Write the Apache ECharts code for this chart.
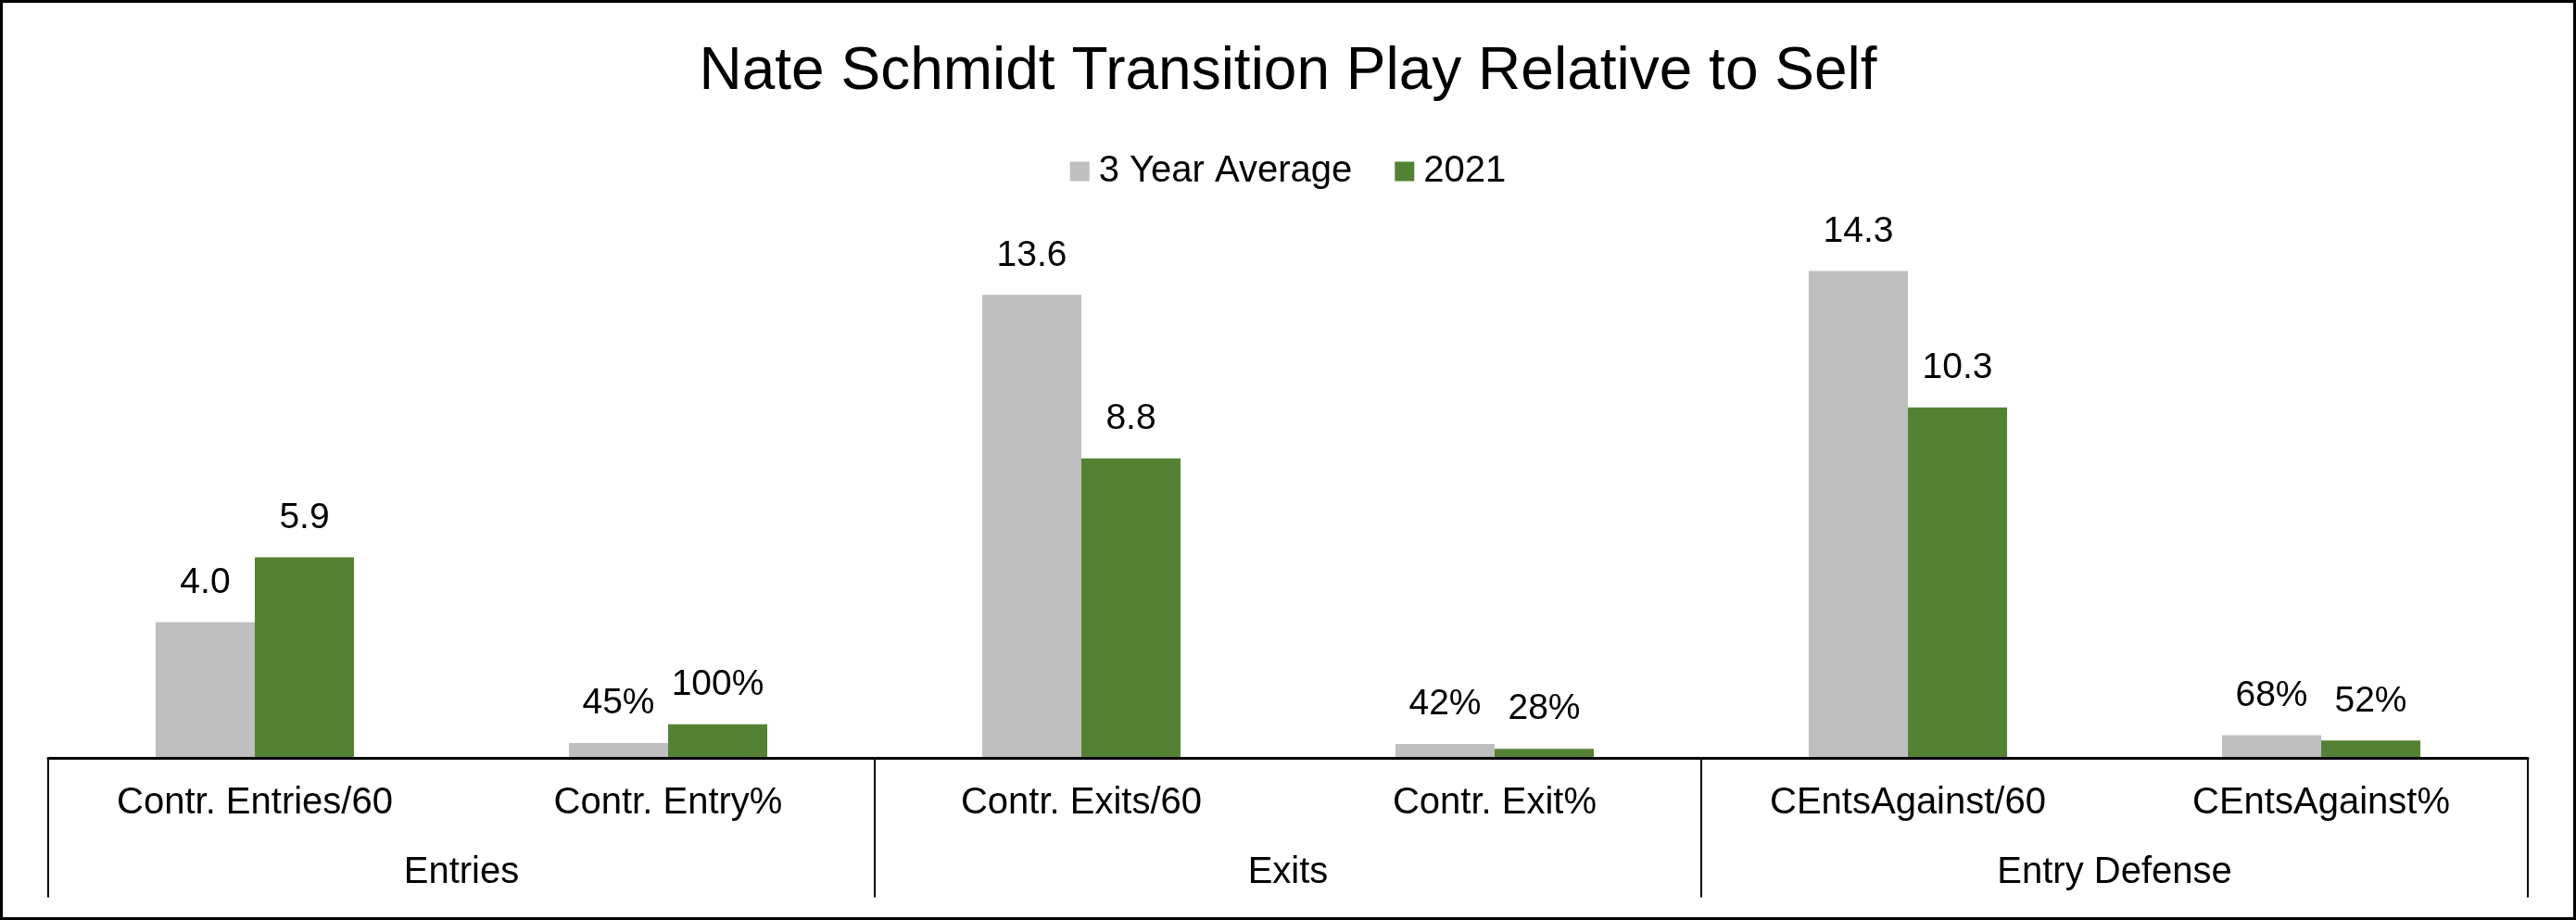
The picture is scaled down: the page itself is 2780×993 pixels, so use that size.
<!DOCTYPE html>
<html>
<head>
<meta charset="utf-8">
<script src="https://cdn.jsdelivr.net/npm/echarts@6/dist/echarts.min.js"></script>
<style>
  html, body { margin: 0; padding: 0; background: #fff; }
  #wrap { position: relative; width: 2780px; height: 993px; }
  #chart { width: 2780px; height: 993px; }
  #frame { position: absolute; left: 0; top: 0; width: 2780px; height: 993px; box-sizing: border-box; border: 3px solid #000; pointer-events: none; }
</style>
</head>
<body>
<div id="wrap"><div id="chart"></div><div id="frame"></div></div>
<script>
const titleText = 'Nate Schmidt Transition Play Relative to Self';
const categories = ['Contr. Entries/60', 'Contr. Entry%', 'Contr. Exits/60', 'Contr. Exit%', 'CEntsAgainst/60', 'CEntsAgainst%'];
const groups = ['Entries', 'Exits', 'Entry Defense'];
const seriesNames = ['3 Year Average', '2021'];
const threeYearAvg = [4.0, 0.45, 13.6, 0.42, 14.3, 0.68];
const season2021 = [5.9, 1.00, 8.8, 0.28, 10.3, 0.52];

const FONT = '"Liberation Sans", Arial, sans-serif';

function fmt(p) {
  const cat = categories[p.dataIndex];
  if (cat.endsWith('%')) return Math.round(p.value * 100) + '%';
  return Number(p.value).toFixed(1);
}

const chart = echarts.init(document.getElementById('chart'), null, { renderer: 'canvas' });
const labelCfg = {
  show: true, position: 'top', distance: 23, formatter: fmt,
  fontFamily: FONT, fontSize: 39, color: '#000'
};
chart.setOption({
  backgroundColor: '#fff',
  animation: false,
  title: {
    text: titleText, left: 'center', top: 41,
    textStyle: { fontFamily: FONT, fontSize: 64, fontWeight: 'normal', color: '#000' }
  },
  legend: {
    data: seriesNames, left: 'center', top: 160,
    itemWidth: 21, itemHeight: 21, itemGap: 46, icon: 'rect',
    textStyle: { fontFamily: FONT, fontSize: 40, color: '#000', padding: [0, 0, 0, 5] }
  },
  grid: { left: 52, right: 52, top: 230, bottom: 174.5, containLabel: false },
  xAxis: [
    {
      type: 'category', data: categories, position: 'bottom', z: 5,
      axisLine: { show: true, lineStyle: { color: '#000', width: 3 } },
      axisTick: { show: false },
      axisLabel: { interval: 0, margin: 28, fontFamily: FONT, fontSize: 40, color: '#000' },
      splitLine: { show: false }
    },
    {
      type: 'category', data: groups, position: 'bottom', z: 5,
      axisLine: { show: false },
      axisTick: { show: true, length: 150, lineStyle: { color: '#000', width: 2 } },
      axisLabel: { interval: 0, margin: 103, fontFamily: FONT, fontSize: 40, color: '#000' },
      splitLine: { show: false }
    }
  ],
  yAxis: {
    type: 'value', min: 0, max: 16, interval: 2, show: false,
    splitLine: { show: false }
  },
  series: [
    {
      name: seriesNames[0], type: 'bar', data: threeYearAvg,
      barWidth: '24%', barGap: '0%',
      itemStyle: { color: '#BFBFBF' }, label: labelCfg
    },
    {
      name: seriesNames[1], type: 'bar', data: season2021,
      barWidth: '24%', barGap: '0%',
      itemStyle: { color: '#548235' }, label: labelCfg
    }
  ]
});
</script>
</body>
</html>
